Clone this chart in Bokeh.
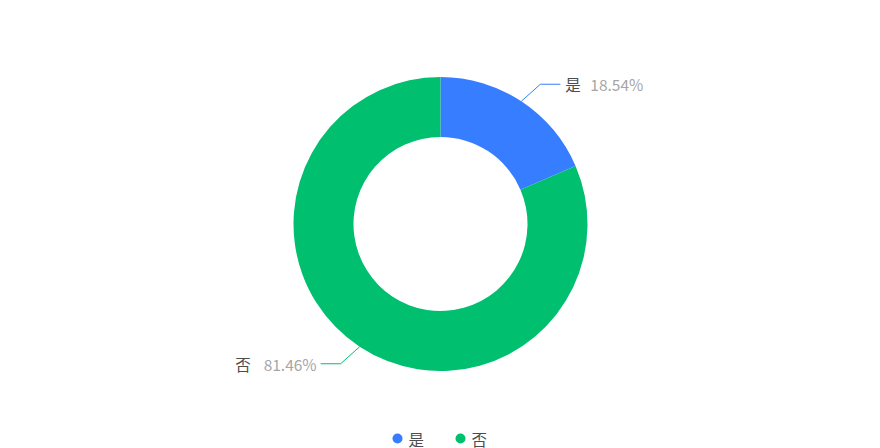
import math
from bokeh.plotting import figure
from bokeh.models import Range1d
from bokeh.core.properties import value
from bokeh.embed import file_html
from bokeh.resources import INLINE

categories = ["是", "否"]
values = [18.54, 81.46]
colors = ["#377DFF", "#00BF6F"]

W, H = 880, 448
p = figure(width=W, height=H, output_backend="svg", toolbar_location=None,
           x_range=Range1d(0, W), y_range=Range1d(0, H), min_border=0)
p.axis.visible = False
p.grid.visible = False
p.outline_line_color = None

def py(page_y):
    return H - page_y

def px(page_x):
    return page_x

cx, cy = px(440), py(223.5)
r_out, r_in = 147, 87
font = value("Noto Sans CJK SC")
fs = "15.5px"

total = sum(values)
start = math.pi / 2
for cat, v, col in zip(categories, values, colors):
    sweep = 2 * math.pi * v / total
    end = start
    beg = start - sweep
    p.annular_wedge(x=cx, y=cy, inner_radius=r_in, outer_radius=r_out,
                    start_angle=beg, end_angle=end, fill_color=col, line_color=None)
    mid = (beg + end) / 2
    ex, ey = cx + r_out * math.cos(mid), cy + r_out * math.sin(mid)
    sx = 1 if math.cos(mid) >= 0 else -1
    sy = 1 if math.sin(mid) >= 0 else -1
    elx, ely = ex + 19 * sx, ey + 17 * sy
    hx = elx + 20 * sx
    p.line([ex, elx, hx], [ey, ely, ely], line_color=col, line_width=1)
    pct = f"{v:.2f}%"
    if sx > 0:
        p.text(x=[hx + 5], y=[ely], text=[cat], text_font=font, text_font_size=fs,
               text_color="#4D4D4D", text_baseline="middle", text_align="left")
        p.text(x=[hx + 30], y=[ely], text=[pct], text_font=font, text_font_size=fs,
               text_color="#A6A6A6", text_baseline="middle", text_align="left")
    else:
        p.text(x=[hx - 4], y=[ely], text=[pct], text_font=font, text_font_size=fs,
               text_color="#A6A6A6", text_baseline="middle", text_align="right")
        p.text(x=[hx - 70], y=[ely], text=[cat], text_font=font, text_font_size=fs,
               text_color="#4D4D4D", text_baseline="middle", text_align="right")
    start = beg

# legend
leg_x = [px(397), px(460)]
ly = py(438)
for cat, col, lx in zip(categories, colors, leg_x):
    p.scatter(x=[lx], y=[ly], size=10, fill_color=col, line_color=None, marker="circle")
    p.text(x=[lx + 11], y=[ly], text=[cat], text_font=font, text_font_size=fs,
           text_color="#4D4D4D", text_baseline="middle", text_align="left")

open("out.html", "w").write(file_html(p, INLINE))
